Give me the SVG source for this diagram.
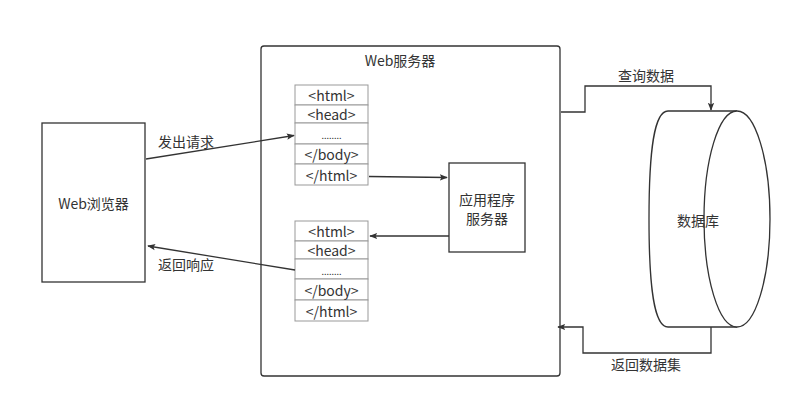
<svg xmlns="http://www.w3.org/2000/svg" width="801" height="409" viewBox="0 0 801 409">
<defs>
<marker id="arr" viewBox="0 0 10 10" refX="9" refY="5" markerWidth="8" markerHeight="8" markerUnits="userSpaceOnUse" orient="auto">
<path d="M0,1 L10,5 L0,9 L2,5 Z" fill="#333"/>
</marker>
<style>
text{font-family:"Noto Sans CJK SC","Noto Sans",sans-serif;fill:#333;font-size:14px;text-anchor:middle;dominant-baseline:central}
text.dots{font-size:9px}
.box{fill:#fff;stroke:#333;stroke-width:1.3}
.cell{fill:#fff;stroke:#999;stroke-width:1}
.line{fill:none;stroke:#333;stroke-width:1.3}
</style>
</defs>
<rect width="801" height="409" fill="#fff"/>
<g id="web-server">
<rect class="box" x="261" y="46" width="299" height="330" rx="3"/>
<text x="400" y="60">Web服务器</text>
</g>
<g id="browser">
<rect class="box" x="42" y="123" width="103" height="159"/>
<text x="93.5" y="203">Web浏览器</text>
</g>
<g id="page-request">
<rect class="cell" x="295" y="85" width="73" height="20"/>
<rect class="cell" x="295" y="105" width="73" height="18"/>
<rect class="cell" x="295" y="123" width="73" height="21"/>
<rect class="cell" x="295" y="144" width="73" height="20"/>
<rect class="cell" x="295" y="164" width="73" height="21"/>
<text x="331.5" y="95">&lt;html&gt;</text>
<text x="331.5" y="114">&lt;head&gt;</text>
<text class="dots" x="331.5" y="135">........</text>
<text x="331.5" y="154">&lt;/body&gt;</text>
<text x="331.5" y="174.5">&lt;/html&gt;</text>
</g>
<g id="page-response">
<rect class="cell" x="295" y="221" width="73" height="20"/>
<rect class="cell" x="295" y="241" width="73" height="18"/>
<rect class="cell" x="295" y="259" width="73" height="20"/>
<rect class="cell" x="295" y="279" width="73" height="21"/>
<rect class="cell" x="295" y="300" width="73" height="21"/>
<text x="331.5" y="231">&lt;html&gt;</text>
<text x="331.5" y="250">&lt;head&gt;</text>
<text class="dots" x="331.5" y="271">........</text>
<text x="331.5" y="289.5">&lt;/body&gt;</text>
<text x="331.5" y="310.5">&lt;/html&gt;</text>
</g>
<g id="app-server">
<rect class="box" x="449" y="163" width="76" height="89"/>
<text x="487" y="199">应用程序</text>
<text x="487" y="218">服务器</text>
</g>
<g id="database">
<path class="box" d="M737,111 L668,111 C654,111 649,150 649,219 C649,288 654,327 668,327 L737,327"/>
<ellipse class="box" cx="737" cy="219" rx="33" ry="108"/>
<text x="698" y="220">数据库</text>
</g>
<g id="connectors">
<path class="line" d="M146,159 L294,135.5" marker-end="url(#arr)"/>
<path class="line" d="M295,270 L148,246" marker-end="url(#arr)"/>
<path class="line" d="M369,176.5 L447,177.5" marker-end="url(#arr)"/>
<path class="line" d="M449,236 L370,236" marker-end="url(#arr)"/>
<path class="line" d="M561,112 L585,112 L585,86 L711,86 L711,110" marker-end="url(#arr)"/>
<path class="line" d="M711,327 L711,353 L583,353 L583,327 L558,327" marker-end="url(#arr)"/>
<text x="186" y="141">发出请求</text>
<text x="186" y="264">返回响应</text>
<text x="646" y="75">查询数据</text>
<text x="646" y="364">返回数据集</text>
</g>
</svg>
